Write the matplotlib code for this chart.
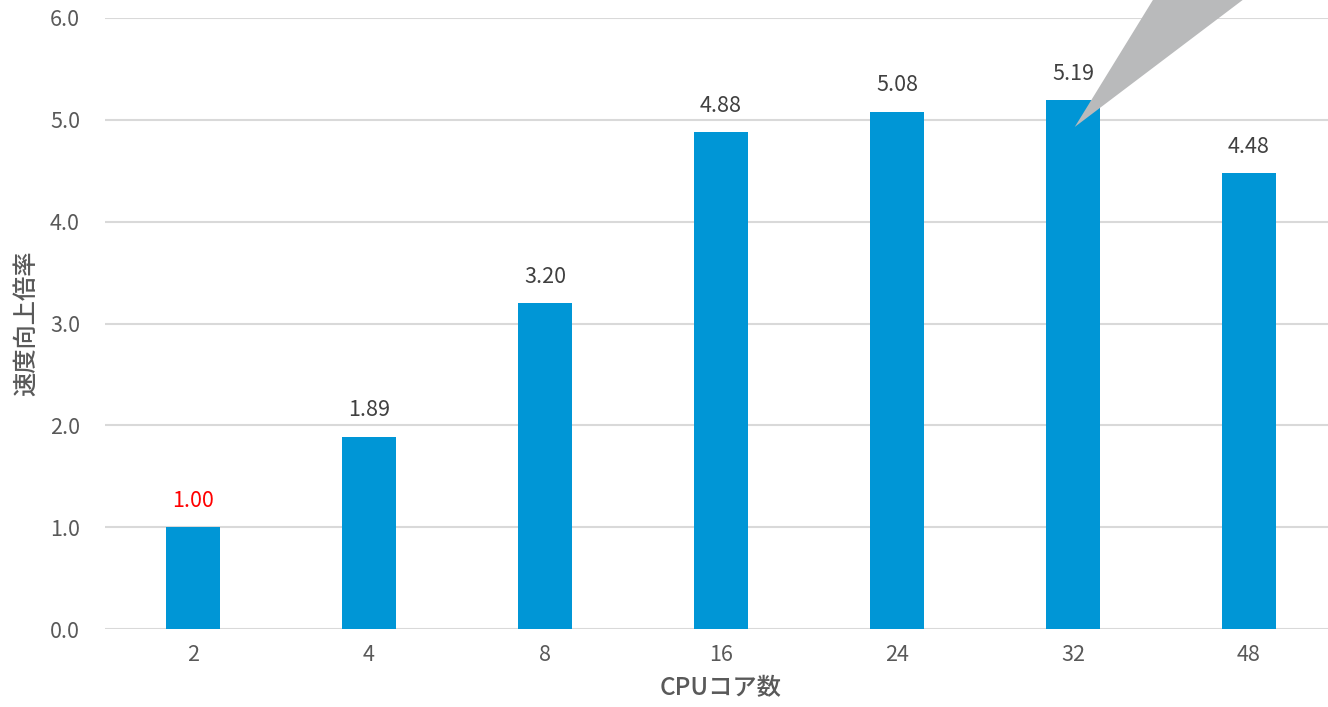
import numpy as np
import matplotlib.pyplot as plt
from matplotlib.patches import Polygon

plt.rcParams['font.family'] = ['Noto Sans CJK JP', 'DejaVu Sans']

cores = ["2", "4", "8", "16", "24", "32", "48"]
speedup = [1.00, 1.89, 3.20, 4.88, 5.08, 5.19, 4.48]
label_colors = ["#ff0000", "#404040", "#404040", "#404040", "#404040", "#404040", "#404040"]

bar_color = "#0096d6"
grid_color = "#d9d9d9"
text_color = "#595959"

fig = plt.figure(figsize=(13.28, 7.07), dpi=100)
ax = fig.add_axes([105 / 1328, 78 / 707, 1232 / 1328, 611 / 707])

x = np.arange(len(cores))
bars = ax.bar(x, speedup, width=0.31, color=bar_color, zorder=3)

for xi, v, c in zip(x, speedup, label_colors):
    ax.annotate(f"{v:.2f}", (xi, v), xytext=(0, 11), textcoords="offset points",
                ha="center", va="bottom", fontsize=15.5, color=c)

ax.set_xlim(-0.5, len(cores) - 0.5)
ax.set_ylim(0, 6)
ax.set_yticks(np.arange(0, 6.01, 1.0))
ax.set_yticklabels([f"{t:.1f}" for t in np.arange(0, 6.01, 1.0)])
ax.set_xticks(x)
ax.set_xticklabels(cores)
ax.tick_params(axis="both", length=0, labelsize=15.5, labelcolor=text_color)
ax.tick_params(axis="y", pad=18)
ax.tick_params(axis="x", pad=11)
ax.grid(axis="y", color=grid_color, linewidth=1.5, zorder=0)
for s in ax.spines.values():
    s.set_visible(False)

ax.set_xlabel("CPUコア数", fontsize=17.5, color=text_color, labelpad=6, fontweight="medium")
ax.set_ylabel("速度向上倍率", fontsize=17.5, color=text_color, labelpad=8, fontweight="medium")

# callout pointer rising from the 32-core bar
tip = (5.01, 4.93)
callout = Polygon([tip, (5.48, 6.25), (6.02, 6.25)], closed=True,
                  facecolor="#b9babb", edgecolor="none", clip_on=False, zorder=4)
ax.add_patch(callout)

fig.savefig("out.png", dpi=100)
